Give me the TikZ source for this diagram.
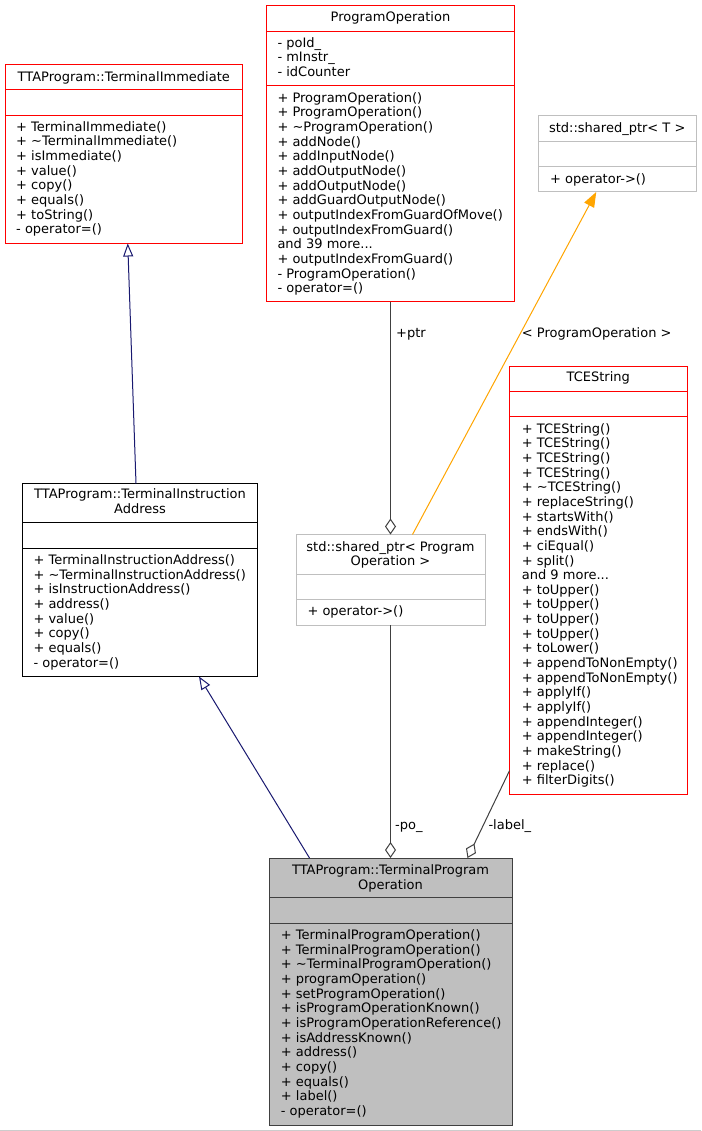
\documentclass[tikz,border=0pt]{standalone}
\usepackage{fontspec}
\setmainfont{DejaVu Sans}
\usetikzlibrary{arrows.meta}

\definecolor{boxgrey}{HTML}{BFBFBF}
\definecolor{darkline}{HTML}{404040}
\definecolor{inheritblue}{HTML}{191970}
\definecolor{tmplorange}{HTML}{FFA500}

\begin{document}
\begin{tikzpicture}[x=1pt, y=-1pt,
    font=\fontsize{13}{14.66}\selectfont,
    classbox/.style={draw, inner sep=0pt, outer sep=0pt, line width=1pt, fill=white},
    redbox/.style={classbox, draw=red},
    greybox/.style={classbox, draw=boxgrey},
    blackbox/.style={classbox, draw=black},
    mainbox/.style={classbox, draw=darkline, fill=boxgrey},
    title/.style={anchor=north, inner sep=0pt, align=center},
    members/.style={anchor=north west, inner sep=0pt, align=left},
    lbl/.style={anchor=base west, inner sep=0pt},
    inherit/.style={draw=inheritblue, line width=1pt, -{Triangle[open, width=10pt, length=13pt]}},
    aggr/.style={draw=darkline, line width=1pt, -{Diamond[open, width=11pt, length=16pt]}},
    templ/.style={draw=tmplorange, line width=1pt, -{Triangle[width=11pt, length=15pt, fill=tmplorange]}}]
    \path[use as bounding box, fill=white] (0,0) rectangle (701,1131);
    \draw[boxgrey!80] (0,1130) -- (701,1130);
    %% Draw the class boxes
    \node[redbox, minimum width=237.5pt, minimum height=179pt] (ti) at (123.75,154) {};
    \node[redbox, minimum width=248pt, minimum height=296pt] (po) at (390.5,153.5) {};
    \node[greybox, minimum width=157.5pt, minimum height=76pt] (spt) at (617.25,154) {};
    \node[blackbox, minimum width=235pt, minimum height=193pt] (tia) at (140,580) {};
    \node[greybox, minimum width=189pt, minimum height=90.5pt] (sppo) at (390.5,579.75) {};
    \node[redbox, minimum width=177.5pt, minimum height=428pt] (tce) at (598.25,580) {};
    \node[mainbox, minimum width=243pt, minimum height=267pt] (tpo) at (390.5,991.5) {};
    %% Draw the compartment lines
    \begin{scope}[line width=1pt]
      \draw[red] (ti.west |- 0,89.5) -- (ti.east |- 0,89.5);
      \draw[red] (ti.west |- 0,115.5) -- (ti.east |- 0,115.5);
      \draw[red] (po.west |- 0,31.5) -- (po.east |- 0,31.5);
      \draw[red] (po.west |- 0,86) -- (po.east |- 0,86);
      \draw[boxgrey] (spt.west |- 0,141.5) -- (spt.east |- 0,141.5);
      \draw[boxgrey] (spt.west |- 0,166.5) -- (spt.east |- 0,166.5);
      \draw[black] (tia.west |- 0,522.5) -- (tia.east |- 0,522.5);
      \draw[black] (tia.west |- 0,548.5) -- (tia.east |- 0,548.5);
      \draw[boxgrey] (sppo.west |- 0,574.5) -- (sppo.east |- 0,574.5);
      \draw[boxgrey] (sppo.west |- 0,599.5) -- (sppo.east |- 0,599.5);
      \draw[red] (tce.west |- 0,391.5) -- (tce.east |- 0,391.5);
      \draw[red] (tce.west |- 0,416.5) -- (tce.east |- 0,416.5);
      \draw[darkline] (tpo.west |- 0,897.5) -- (tpo.east |- 0,897.5);
      \draw[darkline] (tpo.west |- 0,923.5) -- (tpo.east |- 0,923.5);
    \end{scope}
    %% Draw the class names and members
    \node[title] (ti-name) at (123.75,70.7) {\strut TTAProgram::TerminalImmediate};
    \node[members] (ti-ops) at (16,120.7) {\strut + TerminalImmediate()\\
      + \textasciitilde TerminalImmediate()\\+ isImmediate()\\+ value()\\
      + copy()\\+ equals()\\+ toString()\\- operator=()};
    \node[title] (po-name) at (390.5,11.3) {\strut ProgramOperation};
    \node[members] (po-attr) at (277.3,36.7) {\strut - poId\_\\- mInstr\_\\- idCounter};
    \node[members] (po-ops) at (277.3,91.7) {\strut + ProgramOperation()\\
      + ProgramOperation()\\+ \textasciitilde ProgramOperation()\\+ addNode()\\
      + addInputNode()\\+ addOutputNode()\\+ addOutputNode()\\
      + addGuardOutputNode()\\+ outputIndexFromGuardOfMove()\\
      + outputIndexFromGuard()\\and 39 more...\\+ outputIndexFromGuard()\\
      - ProgramOperation()\\- operator=()};
    \node[title] (spt-name) at (617.25,121.7) {\strut std::shared\_ptr< T >};
    \node[members] (spt-ops) at (550,172.7) {\strut + operator->()};
    \node[title] (tia-name) at (140,488.3) {\strut TTAProgram::TerminalInstruction\\Address};
    \node[members] (tia-ops) at (33.3,554) {\strut + TerminalInstructionAddress()\\
      + \textasciitilde TerminalInstructionAddress()\\+ isInstructionAddress()\\
      + address()\\+ value()\\+ copy()\\+ equals()\\- operator=()};
    \node[title] (sppo-name) at (390.5,540.7) {\strut std::shared\_ptr< Program\\Operation >};
    \node[members] (sppo-ops) at (307.3,605.3) {\strut + operator->()};
    \node[title] (tce-name) at (598.25,371.5) {\strut TCEString};
    \node[members] (tce-ops) at (521.7,422.6) {\strut + TCEString()\\+ TCEString()\\
      + TCEString()\\+ TCEString()\\+ \textasciitilde TCEString()\\+ replaceString()\\
      + startsWith()\\+ endsWith()\\+ ciEqual()\\+ split()\\and 9 more...\\
      + toUpper()\\+ toUpper()\\+ toUpper()\\+ toUpper()\\+ toLower()\\
      + appendToNonEmpty()\\+ appendToNonEmpty()\\+ applyIf()\\+ applyIf()\\
      + appendInteger()\\+ appendInteger()\\+ makeString()\\+ replace()\\
      + filterDigits()};
    \node[title] (tpo-name) at (390.5,864) {\strut TTAProgram::TerminalProgram\\Operation};
    \node[members] (tpo-ops) at (280.7,929) {\strut + TerminalProgramOperation()\\
      + TerminalProgramOperation()\\+ \textasciitilde TerminalProgramOperation()\\
      + programOperation()\\+ setProgramOperation()\\+ isProgramOperationKnown()\\
      + isProgramOperationReference()\\+ isAddressKnown()\\+ address()\\
      + copy()\\+ equals()\\+ label()\\- operator=()};
    %% Draw the edge labels
    \node[lbl] (ptr-lbl) at (396,337.2) {+ptr};
    \node[lbl] (tmpl-lbl) at (521.7,337.2) {< ProgramOperation >};
    \node[lbl] (po-lbl) at (395,829.3) {-po\_};
    \node[lbl] (label-lbl) at (488.3,829.3) {-label\_};
    %% Draw the edges
    \draw[inherit] ([xshift=-4pt]tia.north) -- ([xshift=4pt]ti.south);
    \draw[inherit] ([xshift=-81pt]tpo.north) -- ([xshift=59pt]tia.south);
    \draw[aggr] (po.south) -- (sppo.north);
    \draw[aggr] (sppo.south) -- (tpo.north);
    \draw[aggr] ([yshift=23.3pt]tce.south west) -- ([xshift=77pt]tpo.north);
    \draw[templ] ([xshift=22pt]sppo.north) -- ([xshift=-21pt]spt.south);
  \end{tikzpicture}
\end{document}
